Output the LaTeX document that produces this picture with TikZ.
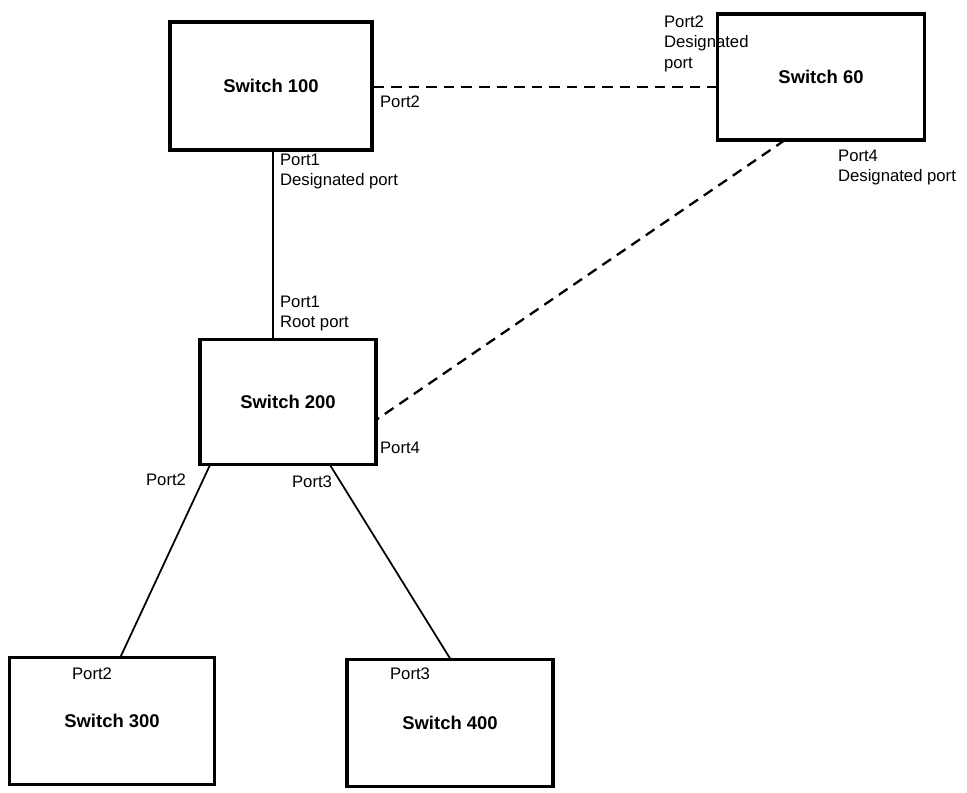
\documentclass[tikz,border=0pt]{standalone}
\usepackage{fontspec}
\setmainfont{Liberation Sans}
\usetikzlibrary{positioning}
\tikzset{
  switchbox/.style = {draw, line width=1.8pt, inner sep=0pt, font=\bfseries\fontsize{10.5}{12}\selectfont},
  portlabel/.style = {font=\fontsize{9.5}{11.5}\selectfont, align=left, inner sep=1pt},
  link/.style = {line width=1pt},
  blocked/.style = {line width=1.3pt, dashed, dash pattern=on 6pt off 4pt},
}
\begin{document}
\begin{tikzpicture}[x=0.02cm, y=-0.02cm]
\useasboundingbox (0,0) rectangle (967,793);

% switches
\node[switchbox, minimum width=202\pgflinewidth, minimum width=4.04cm, minimum height=2.56cm] (s100) at (271,86) {Switch 100};
\node[switchbox, minimum width=4.14cm, minimum height=2.52cm] (s60) at (821,77) {Switch 60};
\node[switchbox, minimum width=3.52cm, minimum height=2.5cm] (s200) at (288,402) {Switch 200};
\node[switchbox, minimum width=4.1cm, minimum height=2.54cm] (s300) at (112,721) {Switch 300};
\node[switchbox, minimum width=4.12cm, minimum height=2.54cm] (s400) at (450,723) {Switch 400};

% links
\coordinate (a1) at (273,150);
\coordinate (a2) at (273,340);
\draw[link] (a1) -- (a2);
\draw[blocked] (s100.east |- 0,87) -- (s60.west |- 0,87);
\coordinate (b1) at (785,140);
\coordinate (b2) at (376,420);
\draw[blocked] (b1) -- (b2);
\coordinate (c1) at (210,465);
\coordinate (c2) at (120,658);
\draw[link] (c1) -- (c2);
\coordinate (d1) at (330,465);
\coordinate (d2) at (451,660);
\draw[link] (d1) -- (d2);

% port labels
\node[portlabel, anchor=north west] (p100b) at (378,94) {Port2};
\node[portlabel, anchor=north west] (p60a) at (662,14) {Port2\\Designated\\port};
\node[portlabel, anchor=north west] (p60b) at (836,148) {Port4\\Designated port};
\node[portlabel, anchor=north west] (p100a) at (278,152) {Port1\\Designated port};
\node[portlabel, anchor=north west] (p200a) at (278,294) {Port1\\Root port};
\node[portlabel, anchor=north west] (p200d) at (378,440) {Port4};
\node[portlabel, anchor=north west] (p200b) at (144,472) {Port2};
\node[portlabel, anchor=north west] (p200c) at (290,474) {Port3};
\node[portlabel, anchor=north west] (p300) at (70,666) {Port2};
\node[portlabel, anchor=north west] (p400) at (388,666) {Port3};
\end{tikzpicture}
\end{document}
